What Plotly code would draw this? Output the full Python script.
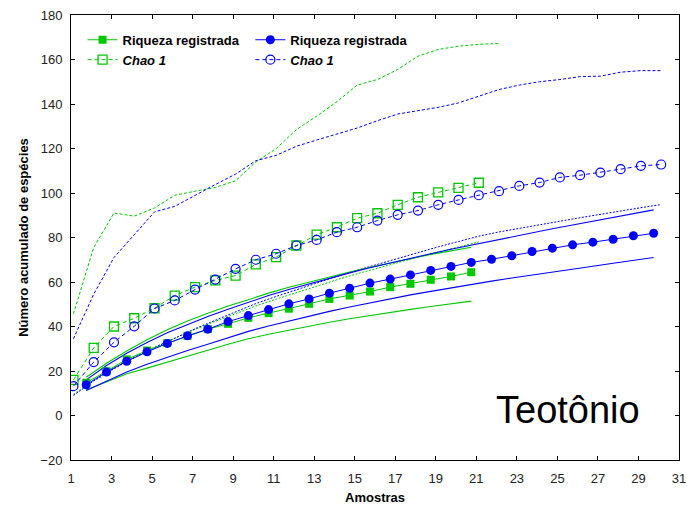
import plotly.graph_objects as go

# ---------------------------------------------------------------------------
# Curvas de acumulação de espécies (Teotônio)
# ---------------------------------------------------------------------------

# Amostras (eixo x) de cada série
amostras_chao_verde = [k + 0.12 for k in range(1, 22)]   # 21 amostras
amostras_ic_chao_verde = [k + 0.12 for k in range(1, 23)]
amostras_chao_azul = [k + 0.12 for k in range(1, 31)]    # 30 amostras
amostras_riq_verde = [k + 0.75 for k in range(1, 21)]    # 20 pontos
amostras_riq_azul = [k + 0.75 for k in range(1, 30)]     # 29 pontos

# Riqueza registrada (Sobs)
riqueza_verde = [14.7, 19.9, 25.2, 29.2, 32.5, 35.8, 38.8, 41.2, 43.9, 46.0,
                 48.0, 50.2, 52.4, 53.9, 55.7, 57.7, 59.2, 61.0, 62.5, 64.4]
riqueza_azul = [13.8, 19.5, 24.4, 28.6, 32.4, 35.8, 38.8, 42.2, 44.9, 47.6,
                50.2, 52.4, 55.0, 57.2, 59.5, 61.3, 63.2, 65.2, 67.0, 68.8,
                70.2, 71.8, 73.7, 75.2, 76.7, 77.9, 79.2, 80.8, 81.9]

# Intervalos de confiança da riqueza registrada
riq_verde_sup = [17.2, 23.5, 29.0, 34.0, 38.5, 42.5, 46.0, 49.2, 52.0, 55.0,
                 57.6, 60.0, 62.3, 64.5, 66.6, 68.6, 70.5, 72.4, 74.0, 75.6]
riq_verde_inf = [11.5, 15.3, 18.8, 21.3, 23.9, 26.4, 29.3, 32.0, 34.5, 36.5,
                 38.4, 40.2, 41.9, 43.5, 45.0, 46.4, 47.7, 49.0, 50.2, 51.4]
riq_azul_sup = [16.0, 22.5, 28.0, 32.8, 37.2, 41.0, 44.5, 47.8, 51.0, 53.9,
                56.6, 59.2, 61.7, 64.1, 66.4, 68.6, 70.7, 72.7, 74.7, 76.6,
                78.5, 80.3, 82.1, 83.9, 85.6, 87.3, 89.0, 90.7, 92.4]
riq_azul_inf = [11.2, 15.5, 19.5, 23.0, 26.2, 29.2, 32.0, 34.8, 37.8, 40.2,
                42.5, 44.7, 46.8, 48.8, 50.7, 52.5, 54.2, 55.8, 57.4, 58.9,
                60.4, 61.8, 63.2, 64.5, 65.8, 67.1, 68.4, 69.7, 71.0]

# Estimador Chao 1
chao_verde = [16.0, 30.4, 40.0, 43.7, 48.2, 53.9, 57.7, 60.7, 62.9, 67.9,
              71.2, 76.4, 81.3, 84.6, 88.7, 90.9, 94.7, 98.1, 100.3, 102.3, 104.6]
chao_azul = [13.2, 24.0, 32.9, 40.1, 48.1, 51.7, 56.6, 61.1, 65.9, 70.0,
             72.7, 76.4, 78.9, 82.4, 84.6, 87.6, 90.2, 92.1, 94.7, 96.9,
             99.0, 100.8, 103.2, 104.7, 107.0, 108.0, 109.2, 110.7, 112.2, 112.8]

# Intervalos de confiança do Chao 1
chao_verde_sup = [45.7, 75.5, 91.0, 89.6, 93.3, 99.0, 100.8, 102.5, 105.5, 114.0,
                  119.9, 128.5, 134.5, 141.0, 148.5, 151.0, 155.5, 161.5, 164.5,
                  166.0, 166.8, 167.2]
chao_verde_inf = [9.5, 16.0, 21.5, 26.3, 30.7, 34.8, 38.7, 42.3, 45.8, 49.2,
                  52.3, 55.3, 58.2, 61.0, 63.7, 66.3, 68.8, 71.2, 73.5, 75.8, 78.0]
chao_azul_sup = [34.5, 54.5, 71.0, 81.5, 91.5, 94.0, 99.0, 103.8, 108.5, 114.5,
                 116.9, 121.0, 123.8, 126.5, 129.2, 132.5, 135.5, 137.0, 138.5, 140.5,
                 143.5, 146.5, 148.5, 150.0, 151.0, 152.3, 152.5, 154.3, 155.0, 155.0]
chao_azul_inf = [9.0, 15.5, 21.0, 26.0, 30.5, 34.8, 39.0, 42.8, 46.5, 50.3,
                 53.5, 56.6, 59.6, 62.5, 65.3, 68.0, 70.7, 73.3, 75.8, 78.2,
                 80.6, 82.5, 84.0, 85.7, 87.3, 88.9, 90.5, 92.0, 93.4, 94.8]

# Eixos
ticks_x = list(range(1, 32, 2))
ticks_y = list(range(-20, 181, 20))

VERDE = "#00C800"
AZUL = "#0000FF"
FONTE = "Arial, 'Liberation Sans', sans-serif"

fig = go.Figure()


def linha(x, y, cor, traco, largura=1.1):
    fig.add_trace(go.Scatter(x=x, y=y, mode="lines", showlegend=False,
                             hoverinfo="skip",
                             line=dict(color=cor, width=largura, dash=traco)))


# Intervalos de confiança (linhas sem marcadores)
linha(amostras_ic_chao_verde, chao_verde_sup, VERDE, "3px,2px", 1)
linha(amostras_chao_azul, chao_azul_sup, AZUL, "3px,2px", 1)
linha(amostras_chao_verde, chao_verde_inf, VERDE, "2px,1.5px", 1)
linha(amostras_chao_azul, chao_azul_inf, AZUL, "2px,1.5px", 1)
linha(amostras_riq_verde, riq_verde_sup, VERDE, "solid")
linha(amostras_riq_verde, riq_verde_inf, VERDE, "solid")
linha(amostras_riq_azul, riq_azul_sup, AZUL, "solid")
linha(amostras_riq_azul, riq_azul_inf, AZUL, "solid")

# Séries principais (com legenda)
fig.add_trace(go.Scatter(
    x=amostras_riq_verde, y=riqueza_verde, mode="lines+markers",
    name="<b>Riqueza registrada</b>", legend="legend",
    line=dict(color=VERDE, width=1),
    marker=dict(symbol="square", size=8, color=VERDE)))
fig.add_trace(go.Scatter(
    x=amostras_chao_verde, y=chao_verde, mode="lines+markers",
    name="<b><i>Chao 1</i></b>", legend="legend",
    line=dict(color=VERDE, width=1, dash="4px,3px"),
    marker=dict(symbol="square-open", size=9, color=VERDE,
                line=dict(width=1.3, color=VERDE))))
fig.add_trace(go.Scatter(
    x=amostras_riq_azul, y=riqueza_azul, mode="lines+markers",
    name="<b>Riqueza registrada</b>", legend="legend2",
    line=dict(color=AZUL, width=1),
    marker=dict(symbol="circle", size=9, color=AZUL)))
fig.add_trace(go.Scatter(
    x=amostras_chao_azul, y=chao_azul, mode="lines+markers",
    name="<b><i>Chao 1</i></b>", legend="legend2",
    line=dict(color=AZUL, width=1, dash="4px,3px"),
    marker=dict(symbol="circle-open", size=9, color=AZUL,
                line=dict(width=1.2, color=AZUL))))

eixo = dict(showline=True, linecolor="black", linewidth=1, mirror="ticks",
            ticks="inside", ticklen=4, tickcolor="black", showgrid=False,
            zeroline=False, tickfont=dict(family=FONTE, size=13, color="#222"))

legenda = dict(xanchor="left", yanchor="top", bgcolor="rgba(0,0,0,0)",
               font=dict(family=FONTE, size=13, color="black"),
               itemwidth=30, tracegroupgap=0, orientation="v")

fig.update_layout(
    width=687, height=506,
    margin=dict(l=71, r=8, t=15, b=46, autoexpand=False),
    paper_bgcolor="white", plot_bgcolor="white",
    font=dict(family=FONTE, color="black"),
    xaxis=dict(eixo, range=[1, 31], tickvals=ticks_x, ticklabelstandoff=6,
               title=dict(text="<b>Amostras</b>", standoff=8,
                          font=dict(family=FONTE, size=13, color="black"))),
    yaxis=dict(eixo, range=[-20, 180], tickvals=ticks_y, ticklabelstandoff=5,
               title=dict(text="<b>Número acumulado de espécies</b>", standoff=8,
                          font=dict(family=FONTE, size=13, color="black"))),
    legend=dict(legenda, x=0.019, y=0.978),
    legend2=dict(legenda, x=0.295, y=0.978),
    annotations=[dict(text="Teotônio", x=0.817, y=0.112, xref="paper",
                      yref="paper", xanchor="center", yanchor="middle",
                      showarrow=False,
                      font=dict(family=FONTE, size=38, color="black"))],
)

fig.write_html("out.html")
